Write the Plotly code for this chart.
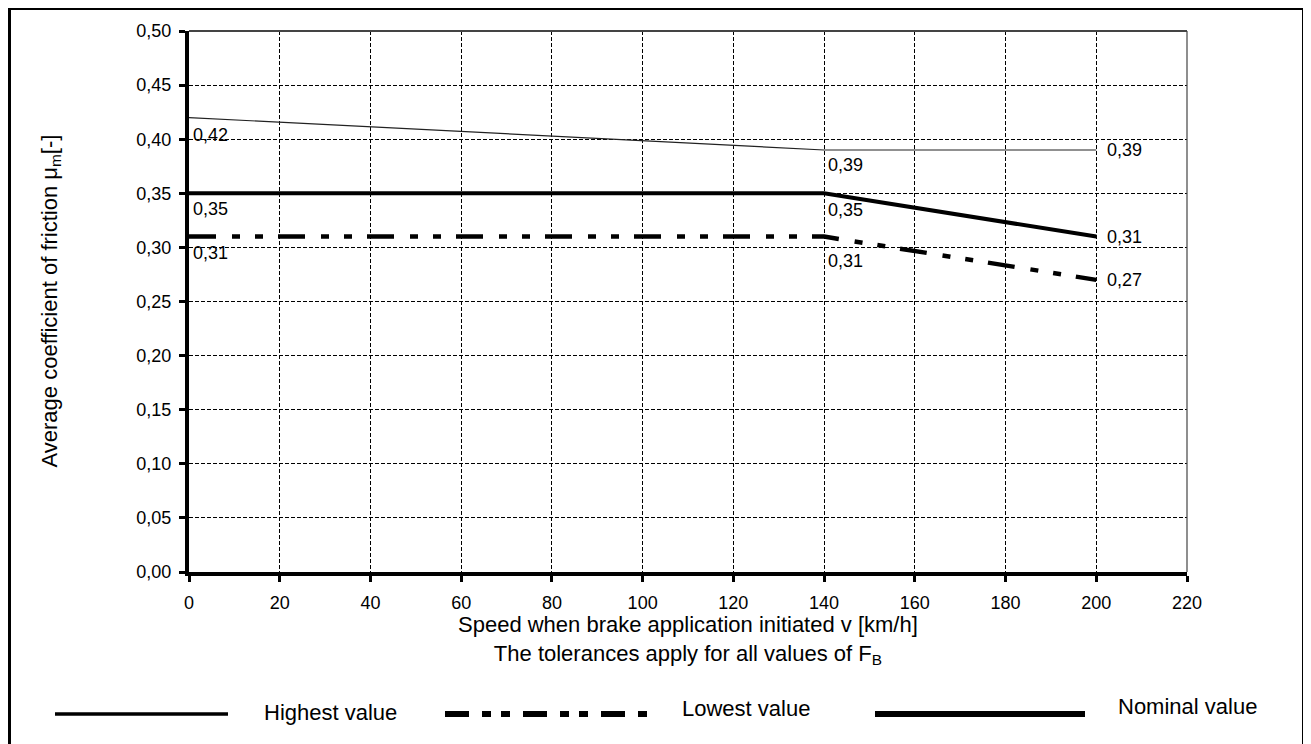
import plotly.graph_objects as go

# ---- data ----
speed = [0, 140, 200]
highest = [0.42, 0.39, 0.39]
lowest = [0.31, 0.31, 0.27]
nominal = [0.35, 0.35, 0.31]
x_ticks = [0, 20, 40, 60, 80, 100, 120, 140, 160, 180, 200, 220]
y_ticks = [0.00, 0.05, 0.10, 0.15, 0.20, 0.25, 0.30, 0.35, 0.40, 0.45, 0.50]
legend_names = ["Highest value", "Lowest value", "Nominal value"]

FONT = "Arial, 'Liberation Sans', sans-serif"
# page has an 8px body margin: figure sits at (8, 8) on screen
OX, OY = 8, 8
SW, SH = 1311, 744
W, H = SW - OX, SH - OY
# plot area in screen pixels
L, R, T, B = 189, 1187, 31, 572
PW, PH = R - L, B - T


def px(xp):
    return (xp - L) / PW


def py(yp):
    return (B - yp) / PH


def fmt(v):
    return f"{v:.2f}".replace(".", ",")


low_dash = "27px,16px,8px,15px,8px,15px"

fig = go.Figure()
fig.add_trace(go.Scatter(x=speed, y=highest, mode="lines",
                         line=dict(color="#222", width=1.2), showlegend=False))
fig.add_trace(go.Scatter(x=speed, y=lowest, mode="lines",
                         line=dict(color="black", width=4.5, dash=low_dash), showlegend=False))
fig.add_trace(go.Scatter(x=speed, y=nominal, mode="lines",
                         line=dict(color="black", width=4), showlegend=False))

annotations = []
# value labels (vertical shift per point)
series = [(highest, [-5, -3, 0]), (nominal, [-4, -5, 0]), (lowest, [-4, -12, 0])]
for vals, shifts in series:
    for i, (xv, yv) in enumerate(zip(speed, vals)):
        last = i == len(speed) - 1
        annotations.append(dict(
            x=xv, y=yv, xref="x", yref="y", text=fmt(yv), showarrow=False,
            xanchor="left", yanchor="middle" if last else "top",
            xshift=9 if last else 2, yshift=shifts[i],
            font=dict(family=FONT, size=18, color="black")))

# axis titles
annotations.append(dict(
    x=0.5, y=0, xref="paper", yref="paper", xanchor="center", yanchor="top",
    yshift=-38, showarrow=False, align="center",
    text="Speed when brake application initiated v [km/h]<br>The tolerances apply for all values of F<sub>B</sub>",
    font=dict(family=FONT, size=22, color="black")))
annotations.append(dict(
    x=px(50), y=0.5, xref="paper", yref="paper", xanchor="center", yanchor="middle",
    textangle=-90, showarrow=False,
    text="Average coefficient of friction μ<sub>m</sub>[-]",
    font=dict(family=FONT, size=22, color="black")))

# legend texts
for name, (xl, yc) in zip(legend_names, [(262, 712), (680, 708), (1116, 706)]):
    annotations.append(dict(
        x=px(xl), y=py(yc), xref="paper", yref="paper", xanchor="left", yanchor="middle",
        showarrow=False, text=name, font=dict(family=FONT, size=22, color="black")))

shapes = [
    # outer frame
    dict(type="rect", xref="paper", yref="paper", x0=px(9.5), x1=px(1303.5), y0=py(750), y1=py(8.5),
         line=dict(color="black", width=3), layer="below"),
    # top / right plot border
    dict(type="line", xref="paper", yref="paper", x0=0, x1=1, y0=1, y1=1,
         line=dict(color="#444", width=2)),
    dict(type="line", xref="paper", yref="paper", x0=1, x1=1, y0=0, y1=1,
         line=dict(color="#444", width=1.2)),
    # legend lines
    dict(type="line", xref="paper", yref="paper", x0=px(55), x1=px(228), y0=py(714), y1=py(714),
         line=dict(color="black", width=3.3)),
    dict(type="line", xref="paper", yref="paper", x0=px(445), x1=px(656), y0=py(714), y1=py(714),
         line=dict(color="black", width=6, dash="24px,13px,9px,10px,9px,13px")),
    dict(type="line", xref="paper", yref="paper", x0=px(875), x1=px(1085), y0=py(714), y1=py(714),
         line=dict(color="black", width=6)),
]

fig.update_layout(
    width=W, height=H,
    margin=dict(l=L - OX, r=SW - R, t=T - OY, b=SH - B, pad=0),
    paper_bgcolor="white", plot_bgcolor="white",
    separators=", ",
    font=dict(family=FONT, size=18, color="black"),
    annotations=annotations, shapes=shapes,
)
fig.update_xaxes(
    range=[0, 220], tickvals=x_ticks, ticktext=[str(v) for v in x_ticks],
    showline=True, linecolor="black", linewidth=4,
    ticks="outside", ticklen=6, tickwidth=3, tickcolor="black",
    showgrid=True, gridcolor="black", gridwidth=1, griddash="4px,2px",
    zeroline=False, tickfont=dict(size=18), ticklabelstandoff=5,
)
fig.update_yaxes(
    range=[0, 0.5], tickvals=y_ticks, ticktext=[fmt(v) for v in y_ticks],
    showline=True, linecolor="black", linewidth=4,
    ticks="outside", ticklen=6, tickwidth=3, tickcolor="black",
    showgrid=True, gridcolor="black", gridwidth=1, griddash="4px,2px",
    zeroline=False, tickfont=dict(size=18), ticklabelstandoff=4,
)

fig.write_html("out.html")
